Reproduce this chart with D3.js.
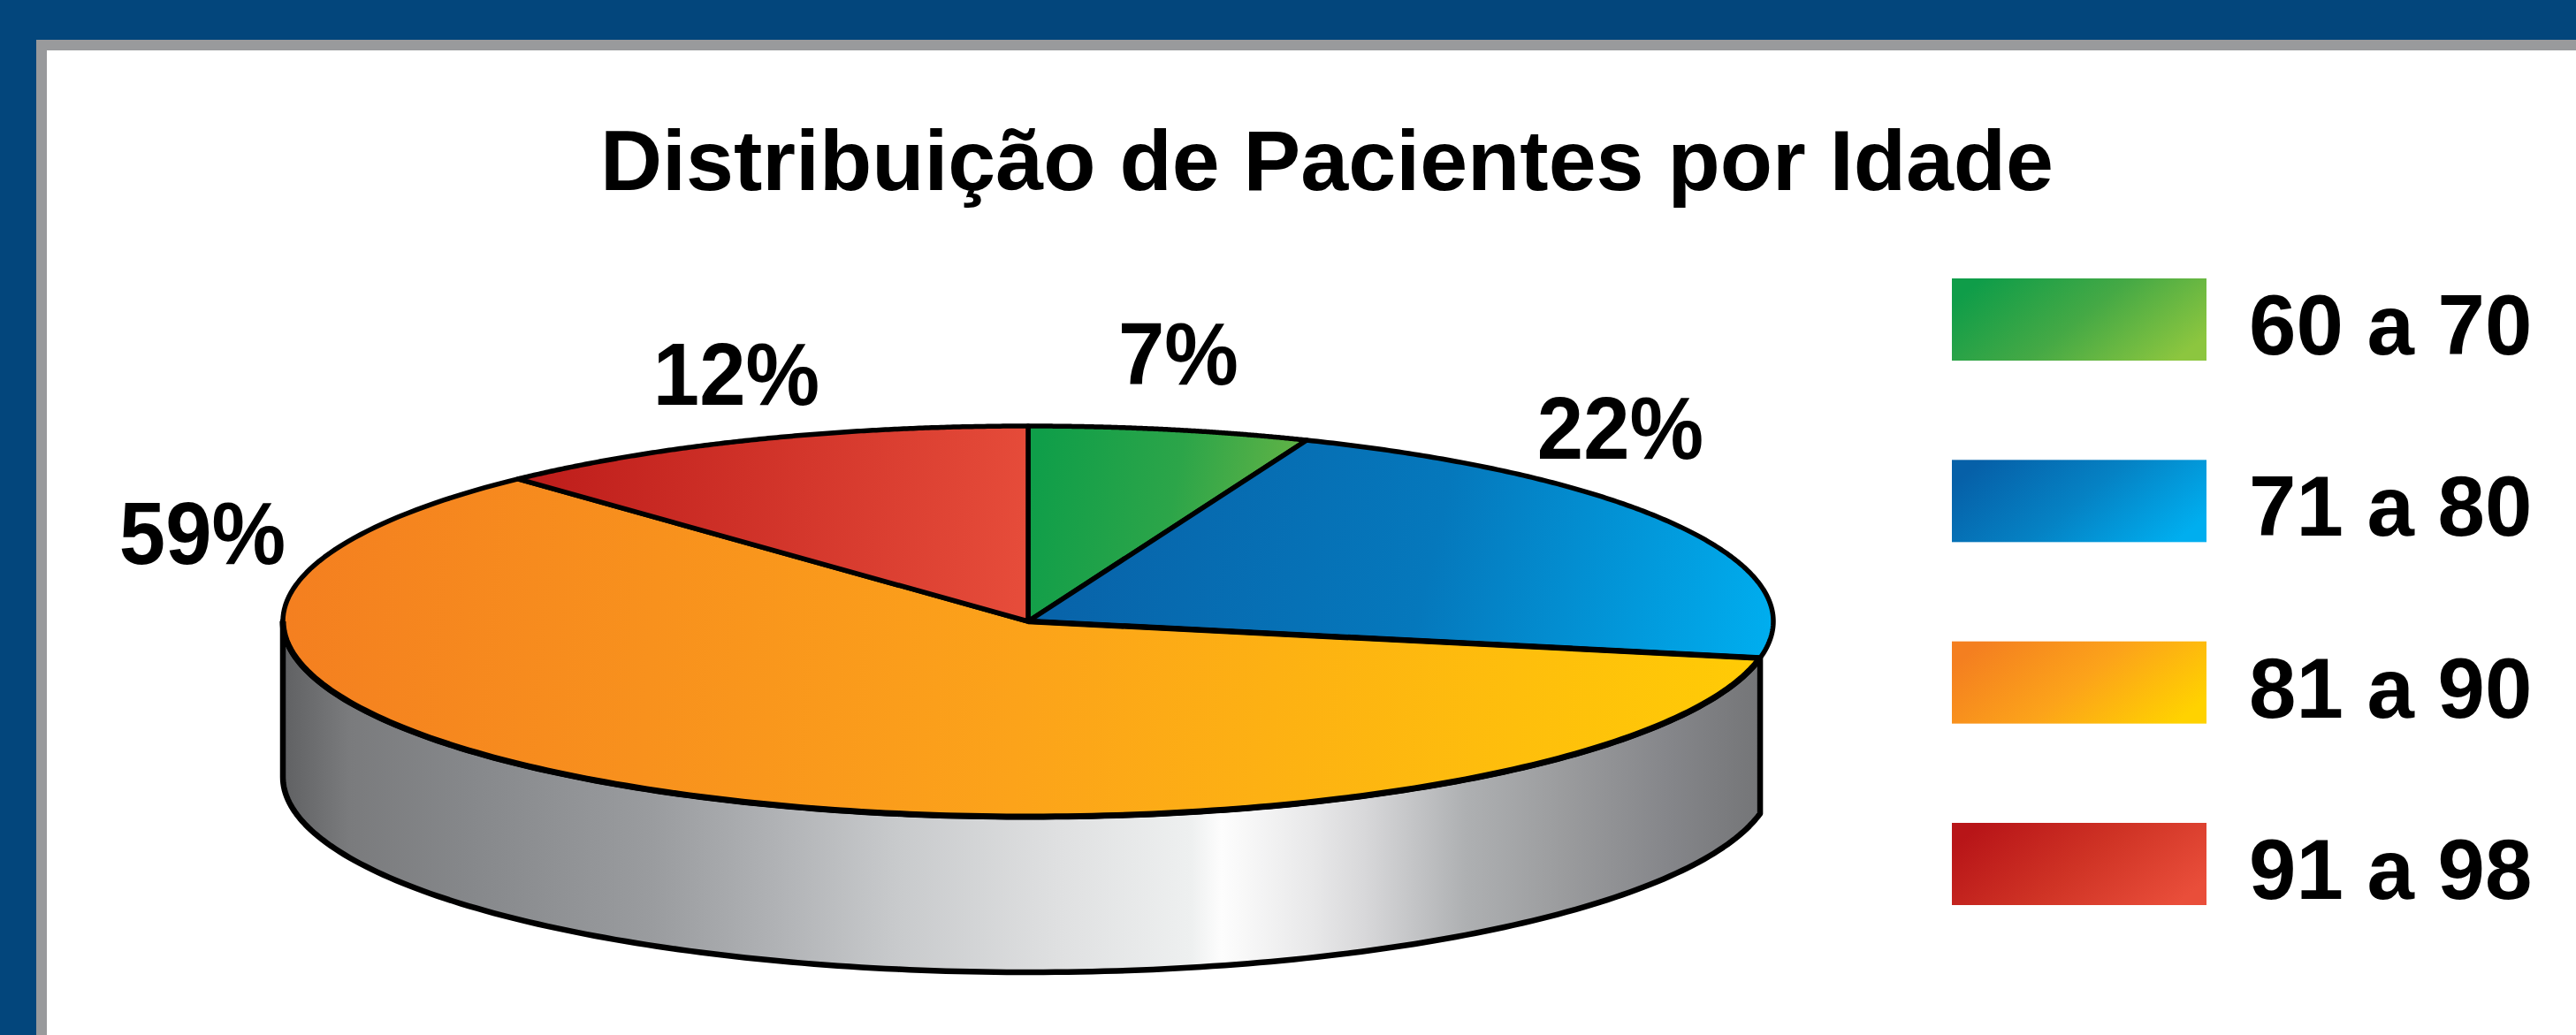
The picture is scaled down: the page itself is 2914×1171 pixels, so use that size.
<!DOCTYPE html>
<html>
<head>
<meta charset="utf-8">
<script src="https://cdnjs.cloudflare.com/ajax/libs/d3/7.9.0/d3.min.js"></script>
<style>
html,body{margin:0;padding:0;background:#fff;overflow:hidden}
svg{display:block}
text{font-family:"Liberation Sans",Arial,sans-serif;font-weight:700;fill:#000}
</style>
</head>
<body>
<script>
// ---- data ----
const titleText = "Distribuição de Pacientes por Idade";
const ageRanges = ["60 a 70", "71 a 80", "81 a 90", "91 a 98"];
const printedPercent = [7, 22, 59, 12];            // numbers printed on the chart
const drawnShare = [6.1, 21.9, 60, 12];            // slice sizes as actually drawn in the picture
const sliceColors = [
  ["#0f9e49", "#2ca549", "#6cb645"],
  ["#0864aa", "#0578bc", "#00aeef"],
  ["#f47f20", "#fca31a", "#ffcc05"],
  ["#bd1c1a", "#e64c3a"]
];
const legendColors = [
  ["#0f9d49", "#45a945", "#8cc63f"],
  ["#0660a8", "#0582c4", "#00aeef"],
  ["#f47f20", "#fca31a", "#ffd200"],
  ["#b81518", "#cf3325", "#e94e3a"]
];
const wallStops = [
  [318, "#5f6062"], [395, "#7a7b7d"], [533, "#86888b"], [739, "#9a9c9f"],
  [877, "#b0b2b5"], [1015, "#c8cacc"], [1198, "#dfe0e1"], [1348, "#eef0f0"],
  [1382, "#fdfdfd"], [1485, "#e8e8e9"], [1543, "#d8d8da"], [1658, "#aeb0b2"],
  [1772, "#9a9b9d"], [1887, "#85868a"], [1998, "#737476"]
];

// ---- layout ----
const W = 2914, H = 1171;
const cx = 1163, cy = 703, rx = 843, ry = 221, depth = 176;
const labelPos = [[1333, 435], [1833, 519], [229, 638], [833, 458]];

const svg = d3.select("body").append("svg").attr("width", W).attr("height", H);
const defs = svg.append("defs");

svg.append("rect").attr("width", W).attr("height", H).attr("fill", "#03467c");
svg.append("rect").attr("x", 41).attr("y", 45).attr("width", W - 41).attr("height", H - 45).attr("fill", "#999a9c");
svg.append("rect").attr("x", 53).attr("y", 57).attr("width", W - 53).attr("height", H - 57).attr("fill", "#fff");

svg.append("text").attr("x", 1501).attr("y", 215).attr("text-anchor", "middle")
  .attr("font-size", 97).text(titleText);

// projection: unit circle -> flattened ellipse
const px = d3.scaleLinear().domain([-1, 1]).range([cx - rx, cx + rx]);
const py = d3.scaleLinear().domain([-1, 1]).range([cy - ry, cy + ry]);
const onRim = a => [px(Math.sin(a)), py(-Math.cos(a))];
const arcPts = (a0, a1) => d3.range(0, 181).map(i => onRim(a0 + (a1 - a0) * i / 180));
const line = d3.line();

const slices = d3.pie().sort(null).value(d => d)(drawnShare);

// gradients
function gradient(id, coords, stops, units) {
  const g = defs.append("linearGradient").attr("id", id)
    .attr("gradientUnits", units || "userSpaceOnUse")
    .attr("x1", coords[0]).attr("y1", coords[1]).attr("x2", coords[2]).attr("y2", coords[3]);
  stops.forEach((c, i) => g.append("stop")
    .attr("offset", stops.length > 1 ? i / (stops.length - 1) : 0).attr("stop-color", c));
}
const sliceAxes = [
  [1164, 560, 1480, 620],
  [1230, 560, 2000, 740],
  [320, 650, 2000, 800],
  [594, 500, 1164, 560]
];
sliceColors.forEach((c, i) => gradient("slice" + i, sliceAxes[i], c));
legendColors.forEach((c, i) => gradient("legend" + i, [0, 0.3, 1, 0.7], c, "objectBoundingBox"));

const wallX = d3.scaleLinear().domain([318, 1998]).range([0, 1]);
const wg = defs.append("linearGradient").attr("id", "wall").attr("gradientUnits", "userSpaceOnUse")
  .attr("x1", 318).attr("y1", 0).attr("x2", 1998).attr("y2", 0);
wg.selectAll("stop").data(wallStops).join("stop")
  .attr("offset", d => wallX(d[0])).attr("stop-color", d => d[1]);

// side wall: runs from the orange slice's first edge round to the left tangent
const wallStart = slices[2].startAngle, wallEnd = Math.PI * 1.5;
const topEdge = arcPts(wallStart, wallEnd);
const bottomEdge = topEdge.map(p => [p[0], p[1] + depth]).reverse();
svg.append("path").attr("d", line(topEdge.concat(bottomEdge)) + "Z")
  .attr("fill", "url(#wall)").attr("stroke", "#000").attr("stroke-width", 6.5)
  .attr("stroke-linejoin", "round");

// top face
svg.append("g").selectAll("path").data(slices).join("path")
  .attr("d", d => line([[px(0), py(0)]].concat(arcPts(d.startAngle, d.endAngle))) + "Z")
  .attr("fill", (d, i) => `url(#slice${i})`)
  .attr("stroke", "#000").attr("stroke-width", 5.5).attr("stroke-linejoin", "round");

// heavier front rim and orange/blue divider
svg.append("path").attr("d", line(arcPts(wallStart, wallEnd))).attr("fill", "none")
  .attr("stroke", "#000").attr("stroke-width", 7);
svg.append("path").attr("d", line([[px(0), py(0)], onRim(wallStart)])).attr("fill", "none")
  .attr("stroke", "#000").attr("stroke-width", 6.5);

// percent labels
svg.append("g").selectAll("text").data(printedPercent).join("text")
  .attr("transform", (d, i) => `translate(${labelPos[i][0]},${labelPos[i][1]}) scale(0.98,1.04)`)
  .attr("text-anchor", "middle").attr("font-size", 96).text(d => d + "%");

// legend
const legendY = d3.scalePoint().domain(ageRanges).range([315, 931]);
const leg = svg.append("g").selectAll("g").data(ageRanges).join("g")
  .attr("transform", d => `translate(2208,${legendY(d)})`);
leg.append("rect").attr("width", 288).attr("height", 93)
  .attr("fill", (d, i) => `url(#legend${i})`);
leg.append("text").attr("x", 336).attr("y", 86).attr("font-size", 96).text(d => d);
</script>
</body>
</html>
